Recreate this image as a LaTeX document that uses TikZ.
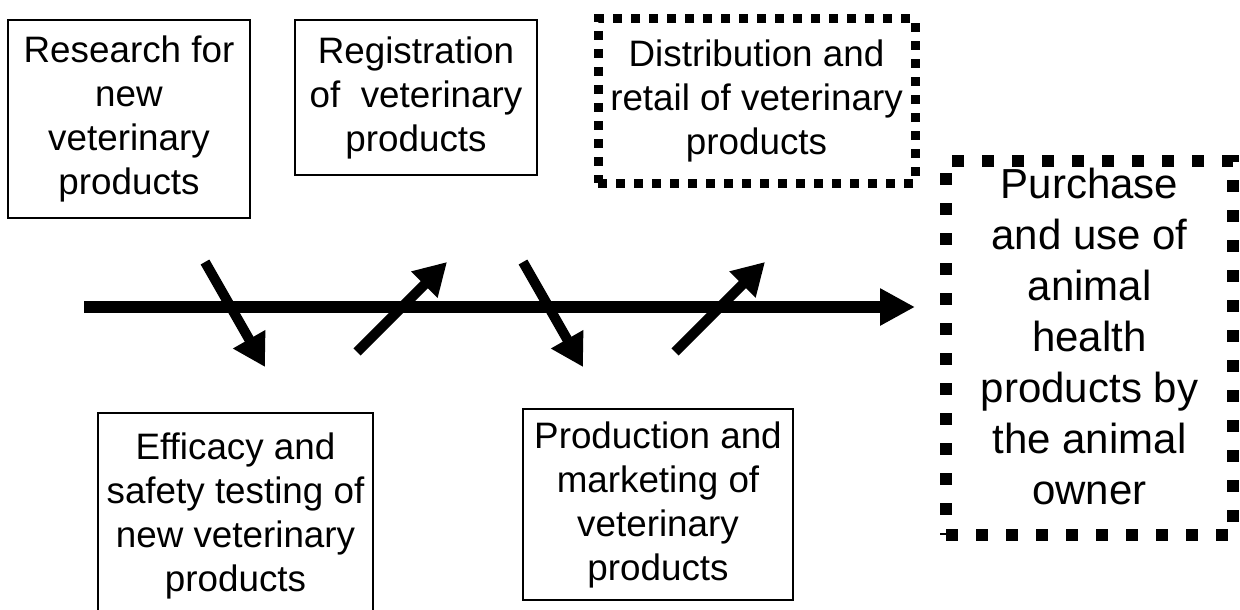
\documentclass[tikz,border=0pt]{standalone}
\usepackage{fontspec}
\setmainfont{Liberation Sans}
\usetikzlibrary{arrows.meta}

\tikzset{
  stage/.style={draw, line width=2pt, inner sep=0pt, align=center,
    font=\fontsize{36.8}{44}\selectfont},
  dotstage/.style={draw, line width=9pt, dash pattern=on 9pt off 9pt,
    inner sep=0pt, align=center, font=\fontsize{36.8}{44}\selectfont},
  ownerframe/.style={draw, line width=12pt, dash pattern=on 12pt off 18pt, inner sep=0pt},
  timeline/.style={line width=12pt, -{Triangle[length=35pt,width=35pt]}},
  hop/.style={line width=10pt, -{Triangle[length=32pt,width=35pt]}},
}

\begin{document}
\begin{tikzpicture}[x=1pt, y=-1pt]
 \useasboundingbox (0,0) rectangle (1240,610);
 \clip (0,0) rectangle (1240,610);
 %
 \node[stage, minimum width=242pt, minimum height=198pt] (research) at (129,119)
   {Research for\\new\\veterinary\\products};
 \node[stage, minimum width=242pt, minimum height=155pt] (registration) at (416,97.5)
   {Registration\\of~ veterinary\\products};
 \node[dotstage, minimum width=317pt, minimum height=164pt] (distribution) at (756.5,101)
   {Distribution and\\retail of veterinary\\products};
 \node[stage, minimum width=275pt, minimum height=206pt] (efficacy) at (235.5,516)
   {Efficacy and\\safety testing of\\new veterinary\\products};
 \node[stage, minimum width=270pt, minimum height=191pt] (production) at (658,504.5)
   {Production and\\marketing of\\veterinary\\products};
 \node[ownerframe, minimum width=287pt, minimum height=374pt] (purchase) at (1089.5,348) {};
 \node[align=center, font=\fontsize{42}{51}\selectfont] (purchasetext) at (1089.5,336)
   {Purchase\\and use of\\animal\\health\\products by\\the animal\\owner};
 %
 \coordinate (lineA) at (84,307);
 \coordinate (lineB) at (915,307);
 \coordinate (hop1a) at (205,262);
 \coordinate (hop1b) at (265,367);
 \coordinate (hop2a) at (357,352);
 \coordinate (hop2b) at (447,262);
 \coordinate (hop3a) at (523,262);
 \coordinate (hop3b) at (583,367);
 \coordinate (hop4a) at (675,352);
 \coordinate (hop4b) at (765,262);
 %
 \draw[timeline] (lineA) -- (lineB);
 \draw[hop] (hop1a) -- (hop1b);
 \draw[hop] (hop2a) -- (hop2b);
 \draw[hop] (hop3a) -- (hop3b);
 \draw[hop] (hop4a) -- (hop4b);
\end{tikzpicture}
\end{document}
